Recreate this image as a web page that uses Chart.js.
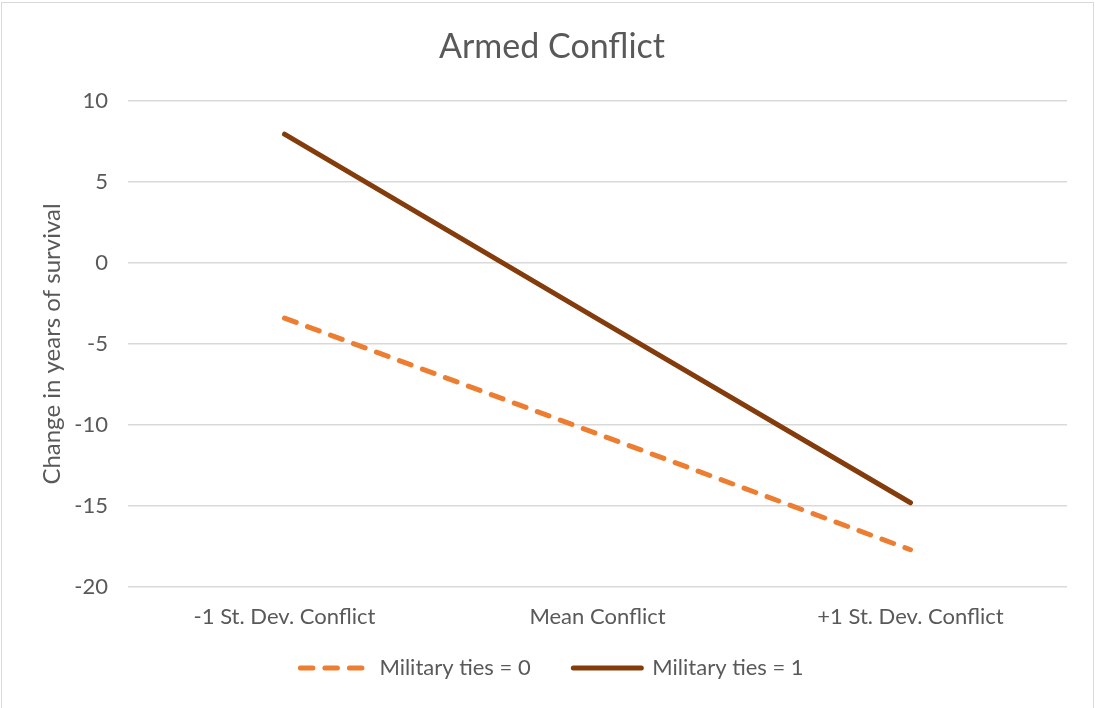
<!DOCTYPE html>
<html>
<head>
<meta charset="utf-8">
<script src="https://cdn.jsdelivr.net/npm/chart.js@4.4.0/dist/chart.umd.min.js"></script>
<style>
    html, body { margin: 0; padding: 0; background: #fff; }
    #wrap { position: relative; width: 1095px; height: 708px; overflow: hidden; }
    #frame { position: absolute; left: 1px; top: 2px; width: 1093px; height: 740px; border: 1.5px solid #D9D9D9; box-sizing: border-box; pointer-events: none; }
    canvas { display: block; }
</style>
</head>
<body>
<div id="wrap">
    <canvas id="chart" width="1095" height="708"></canvas>
    <div id="frame"></div>
</div>
<script>
const categories = ['-1 St. Dev. Conflict', 'Mean Conflict', '+1 St. Dev. Conflict'];
const seriesNames = ['Military ties = 0', 'Military ties = 1'];
const tiesZero = [-3.4, -10.55, -17.7];
const tiesOne = [7.95, -3.45, -14.8];
const yMin = -20;
const yMax = 10;
const yStep = 5;

const FONT = 'Lato, "Open Sans", sans-serif';
const TEXT = '#595959';
const DASH = [12.5, 12];

function renderChart() {
    const ctx = document.getElementById('chart').getContext('2d');
    new Chart(ctx, {
        type: 'line',
        data: {
            labels: categories,
            datasets: [
                {
                    label: seriesNames[0],
                    data: tiesZero,
                    borderColor: '#ED7D31',
                    backgroundColor: '#ED7D31',
                    borderWidth: 5,
                    borderDash: DASH,
                    borderCapStyle: 'round',
                    pointRadius: 0,
                    tension: 0
                },
                {
                    label: seriesNames[1],
                    data: tiesOne,
                    borderColor: '#843C0C',
                    backgroundColor: '#843C0C',
                    borderWidth: 5,
                    borderCapStyle: 'round',
                    pointRadius: 0,
                    tension: 0
                }
            ]
        },
        options: {
            responsive: false,
            animation: false,
            layout: { padding: { left: 37, right: 28, top: 0, bottom: 19 } },
            plugins: {
                title: {
                    display: true,
                    text: 'Armed Conflict',
                    color: TEXT,
                    font: { family: FONT, size: 34, weight: 'normal' },
                    padding: { top: 26.6, bottom: 33.6 }
                },
                legend: {
                    position: 'bottom',
                    labels: {
                        color: TEXT,
                        font: { family: FONT, size: 22 },
                        usePointStyle: true,
                        pointStyle: 'line',
                        pointStyleWidth: 68,
                        padding: 26,
                        generateLabels(chart) {
                            const items = Chart.defaults.plugins.legend.labels.generateLabels(chart);
                            items.forEach((it, i) => {
                                const ds = chart.data.datasets[i];
                                it.lineDash = ds.borderDash || [];
                                it.lineCap = 'round';
                                it.lineWidth = ds.borderWidth;
                                it.strokeStyle = ds.borderColor;
                                // a little extra room between the two legend entries
                                if (i < items.length - 1) it.text += '\u2002\u00a0';
                            });
                            return items;
                        }
                    }
                },
                tooltip: { enabled: false }
            },
            scales: {
                x: {
                    offset: true,
                    grid: { display: false, drawTicks: false },
                    border: { display: false },
                    ticks: {
                        color: TEXT,
                        font: { family: FONT, size: 22 },
                        padding: 16.8,
                        maxRotation: 0
                    },
                    afterFit(scale) { scale.height = 44; }
                },
                y: {
                    min: yMin,
                    max: yMax,
                    grid: { color: '#D9D9D9', lineWidth: 1.4, drawTicks: false },
                    border: { display: false },
                    ticks: {
                        stepSize: yStep,
                        color: TEXT,
                        font: { family: FONT, size: 22 },
                        padding: 20
                    },
                    title: {
                        display: true,
                        text: 'Change in years of survival',
                        color: TEXT,
                        font: { family: FONT, size: 24 },
                        padding: { top: 0.6, bottom: 0 }
                    },
                    afterFit(scale) { scale.width = 91; }
                }
            }
        }
    });
}

renderChart();
</script>
</body>
</html>
